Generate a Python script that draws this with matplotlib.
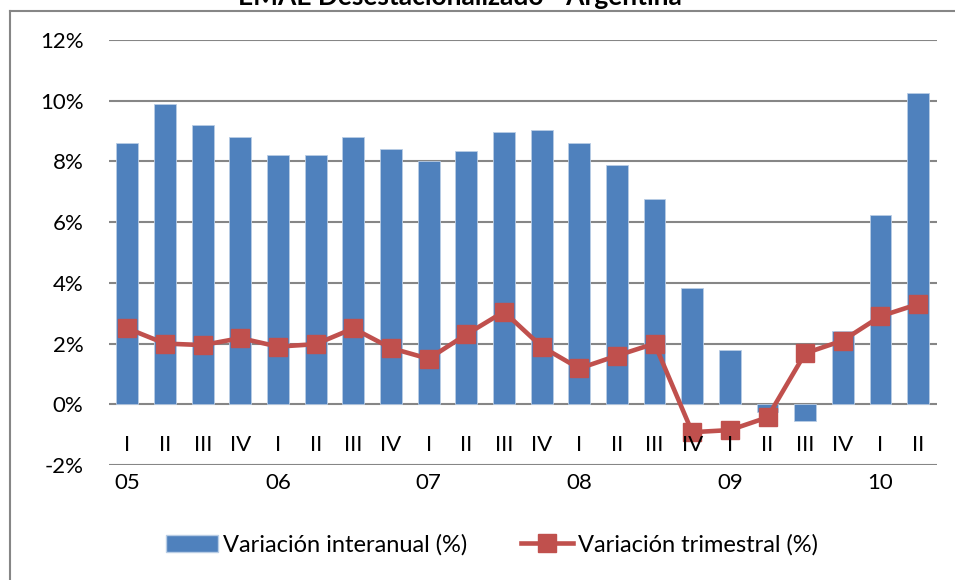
import numpy as np
import matplotlib
matplotlib.use("Agg")
import matplotlib.pyplot as plt
from matplotlib.lines import Line2D
from matplotlib.patches import Patch

# data
quarters = ["I", "II", "III", "IV"] * 5 + ["I", "II"]
years = ["05", "06", "07", "08", "09", "10"]
interanual = [8.6, 9.9, 9.2, 8.8, 8.2, 8.2, 8.8, 8.4, 8.0, 8.33, 8.98, 9.05,
              8.6, 7.87, 6.75, 3.82, 1.78, -0.25, -0.55, 2.4, 6.25, 10.25]
trimestral = [2.5, 2.0, 1.95, 2.18, 1.9, 1.98, 2.5, 1.85, 1.5, 2.3, 3.05, 1.9,
              1.18, 1.6, 2.0, -0.92, -0.85, -0.43, 1.68, 2.1, 2.9, 3.3]

BLUE = "#4F81BD"
RED = "#C0504D"
GRID = "#868686"
FONT = ["Lato", "DejaVu Sans"]

plt.rcParams["font.family"] = FONT

fig = plt.figure(figsize=(9.55, 5.8), dpi=100)
ax = fig.add_axes([0.1137, 0.1983, 0.8674, 0.7327])

x = np.arange(len(interanual))
ax.bar(x, interanual, width=0.58, color=BLUE, edgecolor="#B9CDE5", linewidth=0.6,
       zorder=2, label="Variación interanual (%)")
ax.plot(x, trimestral, color=RED, linewidth=3.3, marker="s", markersize=13.5,
        markeredgecolor=RED, zorder=3, label="Variación trimestral (%)")

ax.set_xlim(-0.5, len(x) - 0.5)
ax.set_ylim(-2, 12)
ax.set_yticks(np.arange(-2, 13, 2))
ax.set_yticklabels([f"{v}%" for v in range(-2, 13, 2)])
ax.tick_params(axis="y", length=0, pad=18, labelsize=16)
ax.set_xticks([])
ax.grid(axis="y", color=GRID, linewidth=1.5, zorder=1)
for s in ax.spines.values():
    s.set_visible(False)

# quarter labels inside the plot, year labels below
for i, q in enumerate(quarters):
    ax.text(i, -1.35, q, ha="center", va="center", fontsize=16)
for j, yr in enumerate(years):
    ax.text(j * 4, -2.6, yr, ha="center", va="center", fontsize=16)

# title (cut off at the top in the reference)
fig.text(0.482, 1 - 5 / 580, "EMAE Desestacionalizado - Argentina", ha="center",
         va="baseline", fontsize=19, fontweight="bold")

# chart area border (left and top only visible)
fig.add_artist(Line2D([10 / 955, 10 / 955], [0, 1 - 11 / 580], transform=fig.transFigure,
                      color=GRID, linewidth=1.5))
fig.add_artist(Line2D([10 / 955, 1], [1 - 11 / 580, 1 - 11 / 580], transform=fig.transFigure,
                      color=GRID, linewidth=1.5))

handles = [Patch(facecolor=BLUE, edgecolor="#B9CDE5"),
           Line2D([0], [0], color=RED, linewidth=3.3, marker="s", markersize=13.5)]
fig.legend(handles, ["Variación interanual (%)", "Variación trimestral (%)"],
           loc="center", bbox_to_anchor=(0.515, 1 - 545 / 580), ncol=2, frameon=False,
           fontsize=17, handlelength=2.2, handleheight=0.7, handletextpad=0.2,
           columnspacing=2.3)

fig.savefig("out.png", dpi=100)
